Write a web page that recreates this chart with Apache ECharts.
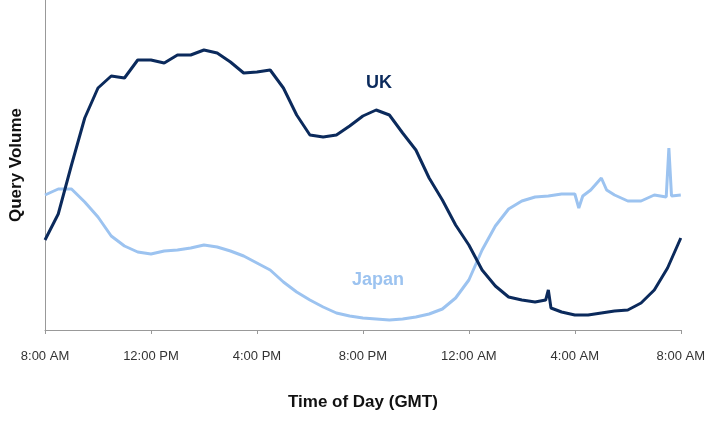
<!DOCTYPE html>
<html>
<head>
<meta charset="utf-8">
<script src="https://cdn.jsdelivr.net/npm/echarts@6/dist/echarts.min.js"></script>
<style>html,body{margin:0;background:#fff}#c{width:708px;height:421px}</style>
</head>
<body>
<div id="c"></div>
<script>
// hours since 8:00 AM GMT
const tickLabels = ["8:00 AM", "12:00 PM", "4:00 PM", "8:00 PM", "12:00 AM", "4:00 AM", "8:00 AM"];

const ukData = [
  [0,90],[0.5,116],[1,165],[1.5,212],[2,242],[2.5,254],[3,252],[3.5,270],[4,270],[4.5,267],
  [5,275],[5.5,275],[6,280],[6.5,277],[7,268],[7.5,257],[8,258],[8.5,260],[9,242],[9.5,215],
  [10,195],[10.5,193],[11,195],[11.5,204],[12,214],[12.5,220],[13,215],[13.5,197],[14,180],[14.5,152],
  [15,130],[15.5,105],[16,85],[16.5,60],[17,44],[17.5,33],[18,30],[18.5,28],[18.9,30],[19,40],[19.1,22],
  [19.5,18],[20,15],[20.5,15],[21,17],[21.5,19],[22,20],[22.5,27],[23,40],[23.5,62],[24,92]
];

const japanData = [
  [0,135],[0.5,141],[1,141],[1.5,128],[2,113],[2.5,94],[3,84],[3.5,78],[4,76],[4.5,79],
  [5,80],[5.5,82],[6,85],[6.5,83],[7,79],[7.5,74],[8,67],[8.5,60],[9,48],[9.5,38],
  [10,30],[10.5,23],[11,17],[11.5,14],[12,12],[12.5,11],[13,10],[13.5,11],[14,13],[14.5,16],
  [15,21],[15.5,32],[16,50],[16.5,80],[17,104],[17.5,121],[18,129],[18.5,133],[19,134],[19.5,136],
  [20,136],[20.15,122],[20.3,134],[20.6,140],[21,152],[21.2,140],[21.5,135],[22,129],[22.5,129],[23,135],
  [23.45,133],[23.55,182],[23.65,134],[24,135]
];

const chart = echarts.init(document.getElementById("c"));
chart.setOption({
  animation: false,
  grid: { left: 42, right: 20, top: 0, bottom: 91, containLabel: false },
  xAxis: {
    type: "value", min: 0, max: 24, interval: 4,
    name: "Time of Day (GMT)", nameLocation: "middle", nameGap: 64,
    nameTextStyle: { fontFamily: "Liberation Sans", fontWeight: "bold", fontSize: 17, color: "#111" },
    axisLine: { lineStyle: { color: "#999" } },
    axisTick: { length: 4, lineStyle: { color: "#999" } },
    axisLabel: { formatter: (v) => tickLabels[v / 4], fontFamily: "Liberation Sans", fontSize: 13, color: "#333", margin: 20 },
    splitLine: { show: false }
  },
  yAxis: {
    type: "value", min: 0, max: 330,
    name: "Query Volume", nameLocation: "middle", nameGap: 20,
    nameTextStyle: { fontFamily: "Liberation Sans", fontWeight: "bold", fontSize: 17, color: "#111" },
    axisLine: { show: true, lineStyle: { color: "#999" } },
    axisTick: { show: false }, axisLabel: { show: false }, splitLine: { show: false }
  },
  series: [
    { name: "Japan", type: "line", data: japanData, showSymbol: false, lineStyle: { color: "#9cc3f0", width: 3 } },
    { name: "UK", type: "line", data: ukData, showSymbol: false, lineStyle: { color: "#0b2a5c", width: 3 } }
  ],
  graphic: [
    { type: "text", left: 366, top: 74, style: { text: "UK", font: "bold 18px Liberation Sans", fill: "#0b2a5c" } },
    { type: "text", left: 352, top: 271, style: { text: "Japan", font: "bold 18px Liberation Sans", fill: "#9cc3f0" } }
  ]
});
</script>
</body>
</html>
